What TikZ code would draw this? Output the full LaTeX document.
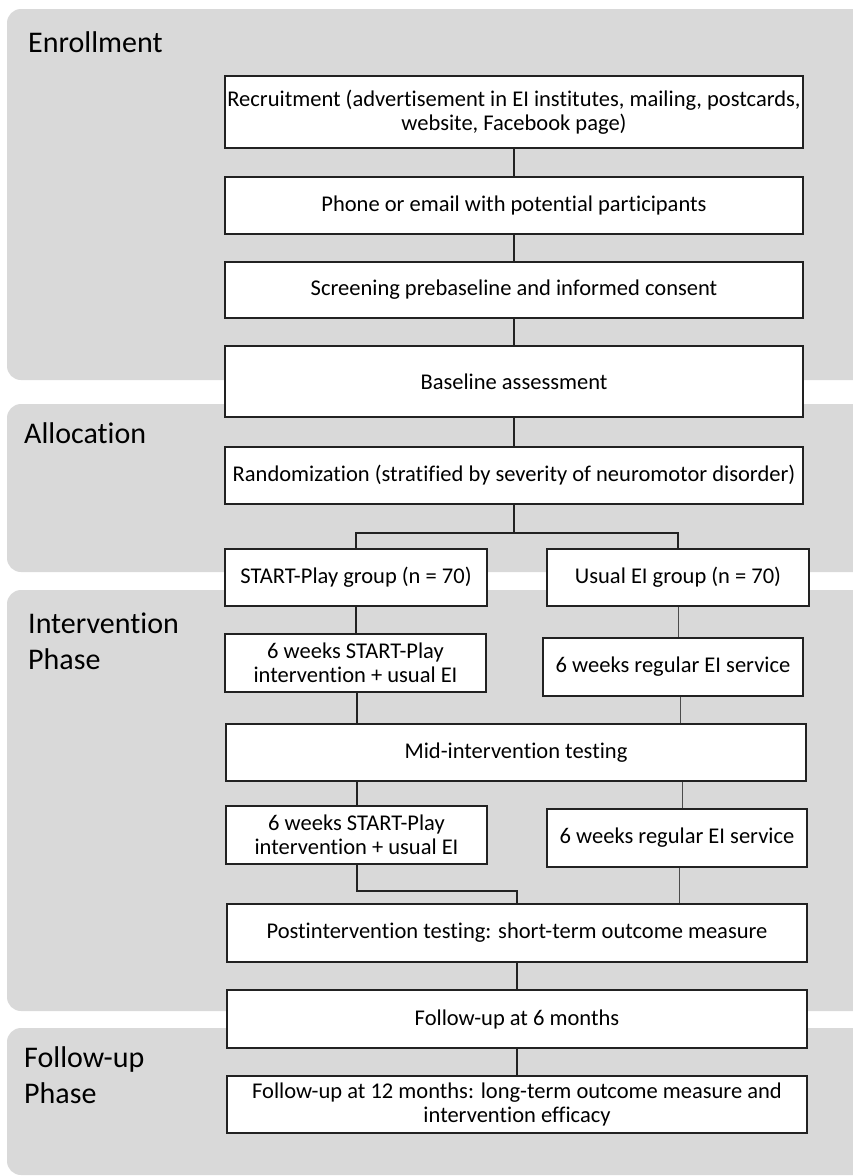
\documentclass[tikz,border=0pt]{standalone}
\usepackage{fontspec}
\setmainfont{Carlito}[Ligatures=NoCommon]
\definecolor{panelgray}{HTML}{D9D9D9}
\definecolor{edgeblack}{HTML}{222222}
\begin{document}
\begin{tikzpicture}[x=1pt,y=-1pt,
		phase/.style={fill=panelgray,draw=none,rounded corners=14pt},
		phaselabel/.style={anchor=west,align=left,inner sep=0pt,font=\fontsize{30}{36}\selectfont},
		stage/.style={draw=edgeblack,line width=1.5pt,fill=white,align=center,inner sep=0pt,
			font=\fontsize{22.5}{24}\selectfont},
		link/.style={draw=edgeblack,line width=1.5pt},
		thinlink/.style={draw=black!70,line width=1pt}]
	\useasboundingbox (0,0) rectangle (853,1176);
	\clip (0,0) rectangle (853,1176);

	% phases
	\fill[phase] (7,9) rectangle (870,380);
	\fill[phase] (7,404) rectangle (870,572);
	\fill[phase] (7,590) rectangle (870,1011);
	\fill[phase] (7,1028) rectangle (870,1175);
	\node[phaselabel] (lenroll) at (28,42) {Enrollment};
	\node[phaselabel] (lalloc) at (24,433) {Allocation};
	\node[phaselabel] (linterv) at (28,641) {Intervention\\Phase};
	\node[phaselabel] (lfollow) at (24,1075) {Follow-up\\Phase};

	% stages
	\node[stage,minimum width=578pt,minimum height=72pt] (recruit) at (514,112)
		{Recruitment (advertisement in EI institutes, mailing, postcards,\\website, Facebook page)};
	\node[stage,minimum width=578pt,minimum height=57pt] (phone) at (514,205.5)
		{Phone or email with potential participants};
	\node[stage,minimum width=578pt,minimum height=56pt] (screen) at (514,290)
		{Screening prebaseline and informed consent};
	\node[stage,minimum width=578pt,minimum height=71pt] (baseline) at (514,381.5)
		{Baseline assessment};
	\node[stage,minimum width=578pt,minimum height=57pt] (random) at (514,475.5)
		{Randomization (stratified by severity of neuromotor disorder)};
	\node[stage,minimum width=262pt,minimum height=57pt] (startgrp) at (356,577.5)
		{START-Play group (n = 70)};
	\node[stage,minimum width=262pt,minimum height=57pt] (usualgrp) at (678,577.5)
		{Usual EI group (n = 70)};
	\node[stage,minimum width=261pt,minimum height=58pt] (startA) at (355.5,663)
		{6 weeks START-Play\\intervention + usual EI};
	\node[stage,minimum width=260pt,minimum height=58pt] (usualA) at (673,667)
		{6 weeks regular EI service};
	\node[stage,minimum width=580pt,minimum height=57pt] (mid) at (516,752.5)
		{Mid-intervention testing};
	\node[stage,minimum width=261pt,minimum height=58pt] (startB) at (356.5,835)
		{6 weeks START-Play\\intervention + usual EI};
	\node[stage,minimum width=260pt,minimum height=58pt] (usualB) at (677,838)
		{6 weeks regular EI service};
	\node[stage,minimum width=580pt,minimum height=58pt] (post) at (517,933)
		{Postintervention testing: short-term outcome measure};
	\node[stage,minimum width=580pt,minimum height=58pt] (fu6) at (517,1019)
		{Follow-up at 6 months};
	\node[stage,minimum width=580pt,minimum height=57pt] (fu12) at (517,1104.5)
		{Follow-up at 12 months: long-term outcome measure and\\intervention efficacy};

	% connection
	\coordinate (split) at (514,533);
	\draw[link] (recruit) -- (phone);
	\draw[link] (phone) -- (screen);
	\draw[link] (screen) -- (baseline);
	\draw[link] (baseline) -- (random);
	\draw[link] (random) -- (split) -| (startgrp);
	\draw[link] (split) -| (usualgrp);
	\draw[link] (startgrp.south) -- (startgrp.south |- startA.north);
	\draw[thinlink] (usualgrp.south) -- (usualgrp.south |- usualA.north);
	\draw[link] ([xshift=1.5pt]startA.south) -- ([xshift=1.5pt]startA.south |- mid.north);
	\draw[thinlink] ([xshift=7pt]usualA.south) -- ([xshift=7pt]usualA.south |- mid.north);
	\draw[link] ([xshift=0.5pt]startB.north) -- ([xshift=0.5pt]startB.north |- mid.south);
	\draw[thinlink] ([xshift=5pt]usualB.north) -- ([xshift=5pt]usualB.north |- mid.south);
	\draw[link] ([xshift=0.5pt]startB.south) -- ++(0,26) -| (post.north);
	\draw[thinlink] ([xshift=2pt]usualB.south) -- ([xshift=2pt]usualB.south |- post.north);
	\draw[link] (post) -- (fu6);
	\draw[link] (fu6) -- (fu12);
\end{tikzpicture}
\end{document}
